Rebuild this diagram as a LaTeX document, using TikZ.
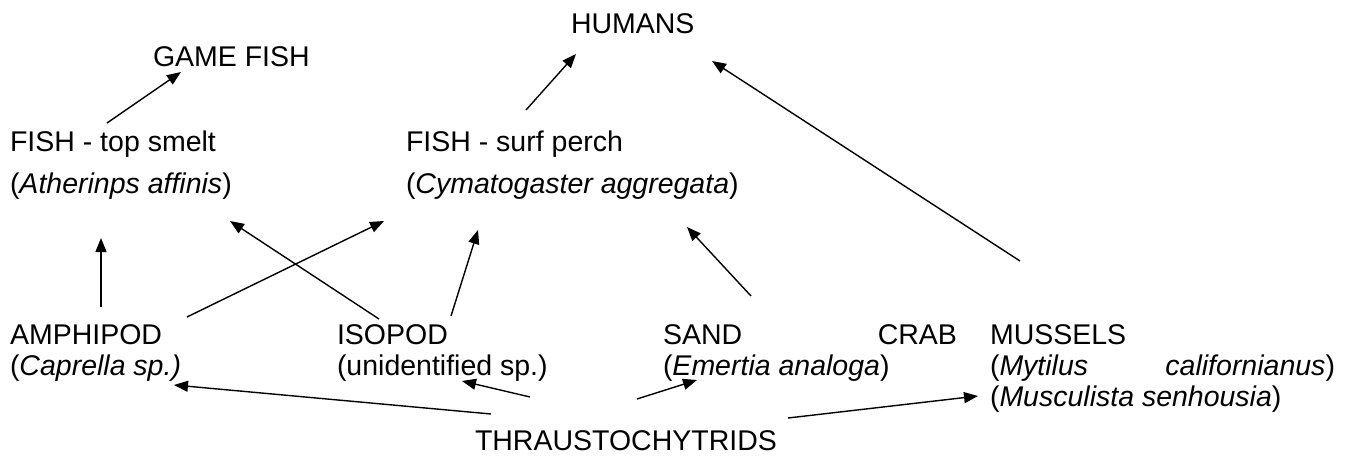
\documentclass[tikz,border=0pt]{standalone}
\usepackage{fontspec}
\setmainfont{Liberation Sans}
\usetikzlibrary{arrows.meta}
\begin{document}
\begin{tikzpicture}[x=1pt,y=-1pt,
  lbl/.style={anchor=base west, inner sep=0pt, outer sep=0pt, font=\fontsize{28.5}{32}\selectfont},
  arr/.style={-{Triangle[length=14pt,width=11pt]}, line width=1.4pt}]
\useasboundingbox (0,0) rectangle (1357,457);
% texts
\node[lbl] (humans)   at (571,34)  {HUMANS};
\node[lbl] (gamefish) at (153,67)  {GAME FISH};
\node[lbl] (smelt1)   at (10,152)  {FISH - top smelt};
\node[lbl] (smelt2)   at (10,194)  {(\textit{Atherinps affinis})};
\node[lbl] (perch1)   at (406,152) {FISH - surf perch};
\node[lbl] (perch2)   at (406,194) {(\textit{Cymatogaster aggregata})};
\node[lbl] (amph1)    at (10,344)  {AMPHIPOD};
\node[lbl] (amph2)    at (10,375)  {(\textit{Caprella sp.)}};
\node[lbl] (iso1)     at (337,344) {ISOPOD};
\node[lbl] (iso2)     at (337,375) {(unidentified sp.)};
\node[lbl] (crab1)    at (663,344) {\hbox to 294pt{SAND\hfill CRAB}};
\node[lbl] (crab2)    at (663,375) {(\textit{Emertia analoga})};
\node[lbl] (mus1)     at (990,344) {MUSSELS};
\node[lbl] (mus2)     at (990,375) {\hbox to 345pt{(\textit{Mytilus}\hfill\textit{californianus})}};
\node[lbl] (mus3)     at (990,406) {(\textit{Musculista senhousia})};
\node[lbl] (thr)      at (475,450) {THRAUSTOCHYTRIDS};
% arrow end points
\coordinate (smeltUp)   at (107,123);  \coordinate (gamefishIn) at (181,72);
\coordinate (perchUp)   at (526,110);  \coordinate (humansInL)  at (576,54);
\coordinate (musUp)     at (1020,261); \coordinate (humansInR)  at (712,61);
\coordinate (amphUpA)   at (101,307);  \coordinate (smeltInA)   at (101,238);
\coordinate (amphUpB)   at (187,317);  \coordinate (perchInA)   at (384,221);
\coordinate (isoUpA)    at (379,319);  \coordinate (smeltInB)   at (230,221);
\coordinate (isoUpB)    at (451,316);  \coordinate (perchInB)   at (478,230);
\coordinate (sandUp)    at (751,296);  \coordinate (perchInC)   at (687,227);
\coordinate (thrA)      at (491,414);  \coordinate (amphIn)     at (174,385);
\coordinate (thrB)      at (530,397);  \coordinate (isoIn)      at (462,381);
\coordinate (thrC)      at (637,399);  \coordinate (sandIn)     at (697,380);
\coordinate (thrD)      at (788,418);  \coordinate (musIn)      at (978,396);
% arrows
\draw[arr] (smeltUp) -- (gamefishIn);
\draw[arr] (perchUp) -- (humansInL);
\draw[arr] (musUp) -- (humansInR);
\draw[arr] (amphUpA) -- (smeltInA);
\draw[arr] (amphUpB) -- (perchInA);
\draw[arr] (isoUpA) -- (smeltInB);
\draw[arr] (isoUpB) -- (perchInB);
\draw[arr] (sandUp) -- (perchInC);
\draw[arr] (thrA) -- (amphIn);
\draw[arr] (thrB) -- (isoIn);
\draw[arr] (thrC) -- (sandIn);
\draw[arr] (thrD) -- (musIn);
\end{tikzpicture}
\end{document}
